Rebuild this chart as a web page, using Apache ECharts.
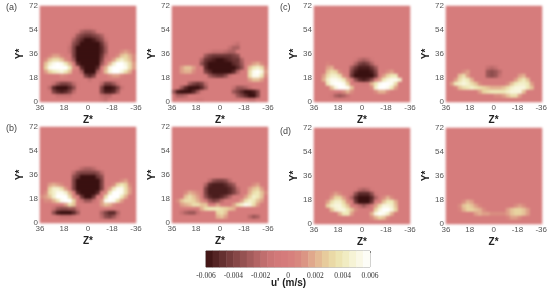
<!DOCTYPE html>
<html><head><meta charset="utf-8">
<script src="https://cdn.jsdelivr.net/npm/echarts@6/dist/echarts.min.js"></script>
<style>html,body{margin:0;padding:0;background:#fff}
#h,#c{position:absolute;left:0;top:0;width:550px;height:290px}
#h{filter:blur(1.1px)}#c{filter:blur(0.45px)}</style>
</head><body><div id="h"></div><div id="c"></div>
<script>
// Values in units of 0.001 m/s. Each entry: [row from top, first column, values...]; every other cell is 0.
// A panel is 24 x 24 cells, 3 wall units wide each.
const panelA1 = [
 [5,11,-.5,-.5],
 [6,9,-1,-2.5,-3,-3,-2.5,-1],
 [7,8,-1,-3,-4,-4.5,-4.5,-4,-3.5,-2.5,-.5],
 [8,8,-2.5,-4,-5,-6,-6,-5.5,-4.5,-3.5,-1.5],
 [9,7,-1,-3.5,-4.5,-6,-6,-6,-6,-6,-4.5,-2.5],
 [10,7,-1.5,-4,-6,-6,-6,-6,-6,-6,-5,-3],
 [11,7,-1.5,-4,-6,-6,-6,-6,-6,-6,-5,-3],[11,20,1,1.5,1],
 [12,2,.5,1.5,1.5,.5],[12,8,-4,-6,-6,-6,-6,-6,-6,-4.5,-2],[12,19,1,2.5,3,2,1],
 [13,1,1,2.5,3.5,3.5,2.5,1],[13,8,-3,-6,-6,-6,-6,-6,-6,-4,-1],[13,18,1.5,3.5,4.5,3.5,2.5,1],
 [14,1,2.5,4.5,5.5,6,5.5,4,2],[14,9,-5,-6,-6,-6,-6,-6,-3],[14,17,2,4.5,6,6,5,3.5,1.5],
 [15,1,3,5.5,6,6,6,6,4,1],[15,10,-5,-6,-6,-6,-5],[15,16,2,5,6,6,6,5.5,3.5,1.5],
 [16,1,1.5,3,4,4.5,5,4,2.5],[16,10,-2.5,-6,-6,-6,-2.5],[16,16,2.5,5,6,6,5,3.5,2],
 [17,5,1,.5],[17,11,-4,-5,-4],[17,17,1,1.5,1.5,.5],
 [18,12,-1.5],
 [19,3,-1.5,-3,-4,-4,-3.5,-2,-.5],[19,15,-2,-4,-4,-3,-1.5],
 [20,2,-2,-5,-6,-6,-6,-5,-3.5,-.5],[20,15,-4,-6,-6,-5.5,-4,-1.5],
 [21,2,-.5,-4,-5,-5.5,-5,-4,-2],[21,15,-4,-5.5,-5.5,-5,-3],
 [22,4,-1.5,-1.5,-1.5,-1.5],[22,15,-1.5,-2,-2],
 [23,15,-1,-1.5]
];
const panelA2 = [
 [9,15,-1,-1.5],
 [10,14,-1.5,-2.5,-2.5],
 [11,9,-1,-1.5,-1.5,-1.5,-2,-2.5,-2.5],
 [12,8,-3,-4,-4.5,-4.5,-4.5,-4.5,-4.5,-4,-3.5],
 [13,7,-2.5,-4.5,-5,-5.5,-6,-6,-5.5,-5,-4.5,-4.5,-2.5],
 [14,7,-3.5,-5,-6,-6,-6,-6,-6,-6,-5,-4.5,-3],[14,19,.5,1.5,2,1],
 [15,2,1.5,2.5,2.5,1.5],[15,8,-5,-6,-6,-6,-6,-6,-6,-6,-5,-3.5],[15,19,2.5,4,4.5,3.5,1],
 [16,2,1.5,2,2,1],[16,8,-4,-5,-6,-6,-6,-6,-6,-5,-2.5],[16,19,3.5,5.5,6,5,1.5],
 [17,9,-3,-4,-4.5,-4.5,-3.5,-1.5],[17,19,3.5,5.5,5.5,4,1],
 [18,19,1.5,2.5,2.5,1.5],
 [19,4,-3,-4,-4.5,-4,-2],
 [20,2,-3,-5,-6,-6,-6,-5,-3],[20,15,-1.5,-3,-3,-2.5,-1.5],
 [21,0,-3,-5.5,-6,-6,-6,-5,-3,-1],[21,15,-3,-4,-5,-6,-6,-5.5,-4],
 [22,0,-1,-2.5,-2.5,-2],[22,15,-1,-3,-4,-5,-6,-6,-4],
 [23,6,-1,-1],[23,18,-1,-1.5,-1.5]
];
const panelB1 = [
 [10,9,-1,-2,-2.5,-2.5,-2,-1],
 [11,8,-2,-3.5,-4,-4,-4,-4,-3.5,-2],
 [12,8,-3.5,-4.5,-6,-6,-6,-6,-4.5,-3.5],
 [13,8,-4,-6,-6,-6,-6,-6,-6,-4],[13,20,1,1.5],
 [14,2,1.5,2,1.5,1],[14,8,-4,-6,-6,-6,-6,-6,-6,-4],[14,18,1,3,4,3,1],
 [15,2,3,4.5,4.5,3.5,1.5],[15,8,-4,-6,-6,-6,-6,-6,-6,-4],[15,17,1.5,4,5.5,5.5,3.5,1.5],
 [16,1,1,3.5,4.5,5.5,5.5,4.5,2],[16,9,-5,-6,-6,-6,-6,-5],[16,16,1,4,6,6,5.5,3.5,1.5],
 [17,0,1,1.5,2.5,4.5,6,6,6,3.5,1],[17,10,-4.5,-6,-6,-4.5],[17,16,3.5,6,6,6,4,2],
 [18,1,1,1,2,3.5,5.5,6,6,3],[18,10,-1.5,-3,-3,-1.5],[18,15,1.5,5.5,6,5.5,3.5,1.5],
 [19,6,1.5,3.5,2.5],[19,15,1.5,2.5,2,1],
 [20,3,-1.5,-3,-3.5,-3.5,-3,-3,-1.5],
 [21,3,-3.5,-5.5,-6,-6,-6,-5,-3],[21,15,-2.5,-4,-5,-5,-2.5],
 [22,4,-1,-1.5,-1.5,-1.5,-1],[22,15,-2,-3.5,-4,-3,-1.5]
];
const panelB2 = [
 [13,9,-2,-3.5,-4,-4,-3.5,-2],
 [14,8,-2.5,-5,-5.5,-5.5,-5.5,-5,-4,-3],[14,20,1,1.5],
 [15,8,-4,-5.5,-5.5,-5.5,-5.5,-5.5,-5,-4,-2],[15,19,1.5,2.5,3,1.5],
 [16,3,1,2,1.5,1],[16,8,-4,-5.5,-5.5,-5.5,-5.5,-5.5,-5,-4,-2.5],[16,19,2,3.5,4,2.5,1],
 [17,3,2.5,3.5,2.5,1.5],[17,8,-3.5,-5,-5.5,-5.5,-5,-4,-2.5],[17,18,1.5,3,4.5,4,2.5],
 [18,1,1,2.5,3.5,3.5,3,2,1],[18,8,-1,-3,-4,-3.5,-2],[18,17,1.5,3.5,4.5,4,2.5,1.5],
 [19,2,1.5,2,2.5,3.5,3.5,2.5,2.5],[19,11,1.5],[19,15,1.5,3.5,4.5,5.5,5,3.5,1.5],
 [20,7,2,3.5,4,4,4,3.5,3,2.5,2],
 [21,2,-1.5,-2.5,-3,-3,-1.5],[21,11,3,3.5,2.5],
 [22,11,2,2.5,1.5],[22,19,-2,-3,-2.5]
];
const panelC1 = [
 [13,10,-1,-2,-2.5,-2,-1],
 [14,9,-.5,-2.5,-4,-4.5,-4,-2.5,-.5],[14,3,.5],
 [15,3,1.5,2],[15,9,-3,-4.5,-5.5,-5.5,-5.5,-4.5,-3],
 [16,3,2.5,3.5,3,1],[16,9,-4,-5.5,-6,-6,-6,-5.5,-4],[16,18,1,1.5],
 [17,2,1.5,3.5,4.5,4.5,3.5,1],[17,9,-4.5,-6,-6,-6,-6,-6,-4.5],[17,17,1.5,3,4,4],
 [18,2,2,4.5,5.5,5.5,5,4,1.5],[18,10,-3.5,-5,-5.5,-5,-3.5],[18,16,1.5,4,5,5.5,5.5,4.5],
 [19,3,4,5.5,6,6,5.5,3],[19,11,-.5,-1,-.5],[19,14,2,4,5.5,6,6,5.5,3.5],
 [20,4,2.5,5,6,6,5.5,2.5],[20,14,1,4.5,6,6,5.5,4,1.5],
 [21,7,1,2,1],[21,15,1,2,2,1],
 [22,4,-1,-2.5,-3,-2.5,-1.5]
];
const panelC2 = [
 [15,10,-1.5,-2,-1.5],
 [16,10,-3,-3.5,-3,-2],[16,4,1,1.5],
 [17,3,2.5,3.5,1.5],[17,10,-3,-3.5,-3,-1.5],[17,18,1.5,2],
 [18,2,1.5,3.5,4.5,4,2],[18,17,1.5,3,4,2.5],
 [19,1,1.5,4,4.5,5,4.5,3.5,2.5,1],[19,15,1,2.5,4,4.5,4.5,4,1.5],
 [20,2,.5,2.5,3.5,4,4.5,4,3.5,3,2.5,2,2,2,2.5,3.5,4.5,5,5,5,4,2.5],
 [21,8,1.5,3,3.5,4,4,4,4,4.5,5,5,5,2.5],
 [22,12,1,1,1.5,2.5,3.5,3.5,1.5]
];
const panelD1 = [
 [15,10,-.5,-2,-2.5,-2,-.5],
 [16,4,.5,1.5,1],[16,9,-1,-3.5,-5,-5,-5,-3.5,-1],
 [17,4,1.5,3,3,1.5],[17,9,-2.5,-5,-6,-6,-6,-5,-2.5],[17,17,1,2,1],
 [18,3,1.5,3.5,4.5,4.5,3,1],[18,10,-4.5,-6,-6,-6,-4.5],[18,16,.5,2.5,4,4,2],
 [19,3,3,4.5,5,5,4,2.5],[19,10,-.5,-2,-3,-2,-.5],[19,15,1.5,3.5,5,5,4.5,2.5],
 [20,4,2.5,4.5,5,5,4,2.5,1],[20,15,3,5,6,6,5,3],
 [21,6,2,4,4,1.5],[21,14,2,5,6,5.5,4.5,2],
 [22,14,1,2,3,2.5,1]
];
const panelD2 = [
 [18,4,1,2,1.5],
 [19,3,1,2.5,3,2.5,1.5,.5],[19,17,1,1.5,1],
 [20,3,.5,2,3,3,2.5,2,1],[20,15,1.5,2.5,3,3,2.5,1.5],
 [21,7,1.5,2,1.5,1.5,1,1,1,1,1.5,2.5,3,3,2.5,1.5],
 [22,15,.5,1.5,1.5,1]
];
const colorbarSteps = [-5.75,-5.25,-4.75,-4.25,-3.75,-3.25,-2.75,-2.25,-1.75,-1.25,-.75,-.25,.25,.75,1.25,1.75,2.25,2.75,3.25,3.75,4.25,4.75,5.25,5.75];
const panelList = [
 {d:panelA1,x:40,y:6,tag:'(a)',tx:6,ty:7},
 {d:panelA2,x:172,y:6},
 {d:panelB1,x:40,y:127,tag:'(b)',tx:6,ty:128},
 {d:panelB2,x:172,y:127},
 {d:panelC1,x:314,y:6,tag:'(c)',tx:280,ty:7},
 {d:panelC2,x:446,y:6},
 {d:panelD1,x:314,y:128,tag:'(d)',tx:280,ty:131},
 {d:panelD2,x:446,y:128}
];
const N = 24, PW = 96, PH = 96;
const idx = Array.from({length:N},(_,i)=>i);
const colorRamp=['#3a1010','#5c2a2a','#7e4242','#9c5757','#bb6a6a','#d07878','#d67c7c','#d98c80','#e2b190','#e8d3a0','#eee9b8','#f8f6de','#ffffff'];
const vm=si=>({show:false,type:'continuous',min:-6,max:6,dimension:2,seriesIndex:si,inRange:{color:colorRamp}});
const labelStyle={color:'#555',fontSize:8,fontFamily:'Liberation Sans'};
const nameStyle={color:'#222',fontSize:10,fontWeight:'bold',fontFamily:'Liberation Sans'};

// heat layer
const hGrid=[],hX=[],hY=[],hS=[];
// axes layer
const grid=[],xAxis=[],yAxis=[],graphic=[];
panelList.forEach((p,k)=>{
  hGrid.push({left:p.x,top:p.y,width:PW,height:PH});
  hX.push({type:'category',gridIndex:k,data:idx,show:false});
  hY.push({type:'category',gridIndex:k,data:idx,show:false,inverse:true});
  const cells=new Map();
  idx.forEach(r=>idx.forEach(c=>cells.set(r*N+c,0)));
  p.d.forEach(s=>{for(let i=2;i<s.length;i++)cells.set(s[0]*N+s[1]+i-2,s[i]);});
  const data=[];
  cells.forEach((v,key)=>data.push([key%N,Math.floor(key/N),v]));
  hS.push({type:'heatmap',xAxisIndex:k,yAxisIndex:k,data,silent:true,progressive:0,animation:false});

  grid.push({left:p.x,top:p.y,width:PW,height:PH});
  xAxis.push({type:'value',gridIndex:k,min:-36,max:36,interval:18,inverse:true,position:'bottom',
    splitLine:{show:false},axisTick:{show:false},axisLine:{show:false},
    axisLabel:{...labelStyle,margin:2,showMinLabel:true,showMaxLabel:true,hideOverlap:false},
    name:'Z*',nameLocation:'middle',nameGap:13,nameTextStyle:nameStyle});
  yAxis.push({type:'value',gridIndex:k,min:0,max:72,interval:18,position:'left',
    splitLine:{show:false},axisTick:{show:false},axisLine:{show:false},
    axisLabel:{...labelStyle,margin:2,showMinLabel:true,showMaxLabel:true,hideOverlap:false},
    name:'Y*',nameLocation:'middle',nameGap:9,nameRotate:90,nameTextStyle:nameStyle});
  if(p.tag)graphic.push({type:'text',left:p.tx,top:p.ty-4,style:{text:p.tag,fill:'#444',fontSize:9,fontFamily:'Liberation Sans'}});
});
// colour bar, in the axes layer
const gi=panelList.length;
grid.push({left:206,top:251,width:164,height:16,borderColor:'#888',borderWidth:1,show:true});
xAxis.push({type:'category',gridIndex:gi,data:colorbarSteps,show:false});
yAxis.push({type:'category',gridIndex:gi,data:[0],show:false});
xAxis.push({type:'value',gridIndex:gi,min:-0.006,max:0.006,interval:0.002,position:'top',
  splitLine:{show:false},axisLine:{show:true,lineStyle:{color:'#888'}},
  axisTick:{show:true,inside:true,length:2,lineStyle:{color:'#555'}},
  axisLabel:{color:'#333',fontSize:7.5,fontFamily:'Liberation Serif',margin:-29,
    showMinLabel:true,showMaxLabel:true,hideOverlap:false,formatter:v=>Math.abs(v)<1e-9?'0':v.toFixed(3)}});
graphic.push({type:'text',left:271,top:278,style:{text:"u' (m/s)",fill:'#222',fontSize:10,fontWeight:'bold',fontFamily:'Liberation Sans'}});

const heat=echarts.init(document.getElementById('h'),null,{renderer:'canvas'});
heat.setOption({animation:false,backgroundColor:'#fff',grid:hGrid,xAxis:hX,yAxis:hY,series:hS,visualMap:vm(hS.map((_,i)=>i))});
const top2=echarts.init(document.getElementById('c'),null,{renderer:'canvas'});
top2.setOption({animation:false,backgroundColor:'transparent',grid,xAxis,yAxis,graphic,
  series:[{type:'heatmap',xAxisIndex:gi,yAxisIndex:gi,silent:true,animation:false,data:colorbarSteps.map((v,i)=>[i,0,v])}],
  visualMap:vm(0)});
</script></body></html>
